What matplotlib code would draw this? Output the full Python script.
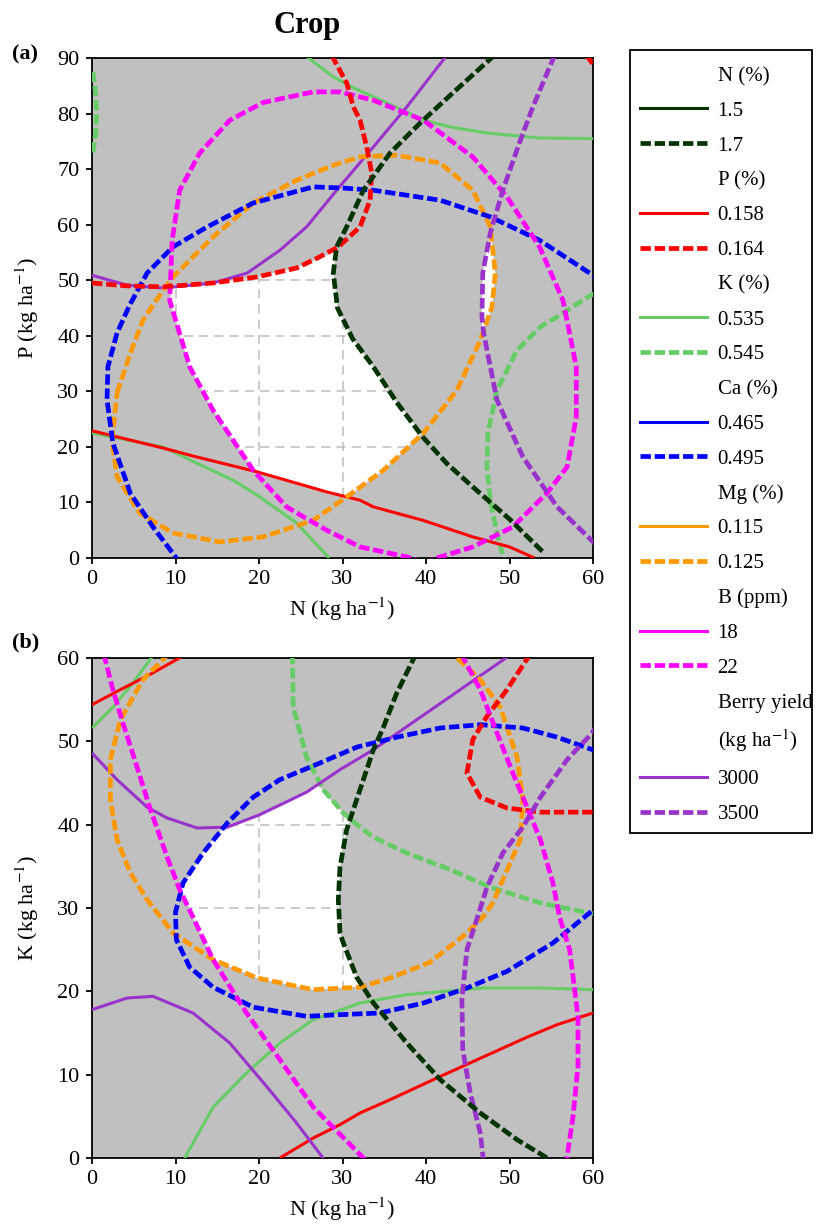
import matplotlib
matplotlib.use("Agg")
import matplotlib.pyplot as plt
from matplotlib.lines import Line2D
from matplotlib.patches import Rectangle

plt.rcParams['font.family'] = ['Liberation Serif', 'DejaVu Serif']
plt.rcParams['mathtext.fontset'] = 'stix'

# ---------------- panel (a): N vs P ----------------
a_n17_x = [48.2, 43.2, 39.3, 35.7, 32.5, 30.5, 29.3, 28.9, 29.4, 31.2, 33.7, 36.5, 39.6, 42.5, 45.6, 50.0, 54.2]
a_n17_y = [90.5, 83.7, 78.3, 72.9, 66.2, 59.6, 56.0, 51.3, 45.0, 39.5, 34.4, 28.0, 21.8, 17.0, 12.8, 7.0, 0.8]

a_p164_x = [28.7, 30.5, 31.3, 32.1, 32.9, 33.5, 33.3, 32.1, 29.5, 27.0, 24.5, 19.8, 14.5, 8.5, 4.0, 0.0]
a_p164_y = [90.5, 85.5, 81.2, 78.8, 74.0, 69.3, 64.4, 59.6, 56.0, 54.0, 52.2, 50.6, 49.5, 48.8, 49.0, 49.5]
a_p164b_x = [59.2, 60.2]
a_p164b_y = [90.5, 88.5]

a_p158_x = [0.0, 8.5, 12.5, 19.8, 28.1, 32.1, 33.7, 39.6, 45.6, 50.0, 53.0]
a_p158_y = [22.9, 19.8, 18.2, 15.5, 11.9, 10.4, 9.2, 6.8, 3.8, 2.0, 0.0]

a_k535_x = [0.0, 8.5, 12.5, 16.9, 19.8, 24.5, 28.4]
a_k535_y = [22.5, 20.0, 17.1, 14.0, 11.3, 6.3, 0.0]
a_k535b_x = [25.5, 28.9, 31.5, 34.5, 39.7, 42.9, 47.3, 53.6, 60.0]
a_k535b_y = [90.5, 86.6, 84.5, 82.5, 78.8, 77.6, 76.5, 75.6, 75.5]

a_k545_x = [0.1, 0.45, 0.55, 0.45, 0.1]
a_k545_y = [87.5, 83.5, 80.0, 76.5, 73.0]
a_k545b_x = [60.2, 59.4, 55.7, 53.7, 50.9, 48.5, 47.4, 47.3, 47.7, 48.5, 49.3]
a_k545b_y = [47.6, 47.0, 43.4, 41.6, 37.4, 30.2, 22.5, 16.4, 10.4, 4.5, 0.0]

a_ca495_x = [10.6, 7.3, 4.6, 2.5, 1.8, 1.9, 3.0, 4.5, 6.6, 9.7, 13.8, 19.3, 26.5, 30.0, 33.7, 41.7, 47.7, 53.6, 60.3]
a_ca495_y = [-1.0, 5.6, 11.6, 20.7, 28.4, 34.4, 40.5, 45.5, 51.3, 56.0, 59.6, 63.9, 66.8, 66.6, 66.2, 64.4, 61.4, 57.2, 50.6]

a_mg125_x = [3.0, 4.6, 6.1, 7.7, 9.7, 14.5, 19.3, 24.5, 28.9, 32.1, 36.5, 41.7, 45.6, 47.7, 48.3, 47.9, 46.5,
             43.7, 39.7, 34.9, 30.5, 26.5, 20.5, 15.3, 9.7, 5.7, 3.0, 2.4, 3.0]
a_mg125_y = [29.7, 36.9, 42.8, 46.4, 50.6, 57.8, 63.9, 68.0, 70.7, 72.2, 72.5, 71.1, 66.2, 59.6, 51.3, 45.2, 39.2,
             30.2, 22.5, 15.8, 11.0, 6.8, 3.8, 2.9, 4.5, 8.1, 14.6, 21.2, 29.7]

a_b22_x = [39.8, 37.7, 32.1, 28.1, 23.3, 19.3, 14.5, 11.7, 9.3, 9.6, 10.5, 12.9, 16.5, 20.5, 26.5, 29.7, 33.7,
           39.7, 45.6, 49.7, 53.6, 56.4, 56.8, 58.0, 58.0, 56.9, 54.5, 50.4, 45.6, 41.7, 39.8]
a_b22_y = [-0.8, 0.2, 2.0, 5.0, 9.2, 15.8, 26.6, 34.4, 46.4, 57.2, 66.2, 72.9, 78.8, 82.0, 83.9, 83.9, 82.4,
           78.8, 72.2, 65.0, 56.0, 46.4, 43.4, 34.4, 25.4, 16.4, 11.7, 5.6, 2.0, 0.2, -0.8]

a_y3000_x = [0.0, 4.2, 8.5, 14.5, 18.6, 22.5, 25.7, 29.3, 33.7, 37.7, 42.5]
a_y3000_y = [50.9, 49.1, 48.6, 49.5, 51.3, 55.4, 59.6, 66.2, 74.0, 81.2, 90.5]

a_y3500_x = [55.4, 52.8, 51.3, 49.2, 47.7, 46.8, 46.7, 46.9, 48.5, 51.6, 55.7, 60.5]
a_y3500_y = [90.5, 81.2, 75.2, 66.2, 58.5, 51.3, 43.4, 40.5, 28.4, 18.2, 9.2, 2.2]

a_white_x = [9.7, 14.5, 19.8, 24.5, 29.2, 28.9, 29.4, 31.2, 33.7, 36.5, 39.5, 34.9, 30.8, 28.1, 19.5, 17.0, 14.5, 11.7, 9.3]
a_white_y = [48.6, 49.5, 50.6, 52.2, 55.2, 51.3, 45.0, 39.5, 34.4, 28.0, 22.5, 15.8, 11.3, 11.9, 15.6, 21.0, 26.6, 34.4, 46.4]
a_lens_x = [47.8, 48.3, 47.9, 46.7, 46.7, 46.8, 47.5]
a_lens_y = [58.0, 51.3, 45.2, 40.0, 43.4, 51.3, 57.0]

# ---------------- panel (b): N vs K ----------------
b_n17_x = [38.8, 36.5, 34.9, 33.7, 32.1, 30.5, 29.7, 29.5, 29.7, 30.1, 31.7, 33.7, 37.7, 41.7, 46.5, 50.9, 55.0]
b_n17_y = [60.5, 55.8, 51.7, 49.0, 44.2, 39.4, 34.9, 31.0, 27.0, 25.8, 21.7, 18.6, 13.8, 9.4, 5.4, 2.2, -0.3]

b_p158_x = [0.0, 3.4, 6.9, 11.0]
b_p158_y = [54.4, 56.2, 58.0, 60.3]
b_p158b_x = [22.5, 26.5, 29.7, 32.1, 35.7, 41.3, 46.8, 52.1, 55.7, 60.0]
b_p158b_y = [0.0, 2.4, 4.0, 5.4, 7.0, 9.6, 12.1, 14.5, 16.0, 17.4]

b_p164_x = [52.5, 49.7, 47.3, 45.6, 44.9, 46.5, 49.7, 53.7, 60.0]
b_p164_y = [60.5, 56.2, 53.0, 50.2, 46.2, 43.3, 42.0, 41.5, 41.5]

b_k535_x = [0.0, 2.5, 4.9, 7.3]
b_k535_y = [51.6, 54.1, 57.0, 60.3]
b_k535b_x = [11.1, 14.5, 18.5, 22.5, 26.5, 32.1, 37.7, 46.8, 53.7, 60.0]
b_k535b_y = [0.0, 6.1, 10.2, 13.8, 16.6, 18.6, 19.6, 20.4, 20.4, 20.2]

b_k545_x = [24.0, 24.1, 25.7, 27.7, 30.1, 32.1, 33.7, 37.7, 42.9, 47.7, 53.7, 60.0]
b_k545_y = [60.5, 54.1, 48.1, 44.2, 41.4, 39.7, 38.5, 36.6, 34.6, 32.5, 30.6, 29.3]

b_ca495_x = [60.5, 55.7, 51.6, 46.5, 41.7, 36.5, 31.7, 27.3, 22.5, 19.3, 16.2, 13.3, 10.9, 10.0, 10.1, 11.7, 14.5,
             19.3, 25.7, 29.7, 34.5, 39.7, 44.9, 49.7, 55.2, 60.3]
b_ca495_y = [48.8, 50.5, 51.6, 52.0, 51.6, 50.5, 49.3, 47.4, 45.4, 43.3, 40.2, 36.6, 33.0, 29.5, 26.2, 22.9, 20.5,
             18.1, 17.0, 17.2, 17.4, 18.6, 20.4, 22.4, 25.8, 30.0]

b_mg125_x = [9.2, 6.1, 3.4, 2.2, 2.2, 3.0, 4.6, 6.6, 9.7, 14.5, 19.8, 26.5, 32.1, 35.7, 40.5, 44.9, 46.8, 48.0,
             49.2, 51.3, 51.6, 50.9, 48.9, 46.5, 43.2]
b_mg125_y = [60.5, 57.4, 52.6, 47.8, 43.0, 38.2, 34.2, 31.0, 27.0, 23.8, 21.6, 20.2, 20.5, 21.6, 23.5, 27.0, 28.9,
             30.6, 33.4, 38.2, 43.0, 48.1, 54.1, 57.4, 60.5]

b_b22_x = [1.4, 2.5, 3.7, 5.4, 6.9, 9.0, 10.5, 12.1, 14.5, 18.5, 22.5, 26.5, 32.8]
b_b22_y = [60.5, 56.2, 52.2, 46.9, 42.1, 36.1, 32.2, 28.9, 23.8, 17.4, 11.8, 6.1, -0.3]
b_b22b_x = [44.2, 46.5, 48.5, 50.4, 52.1, 53.7, 55.2, 56.0, 57.2, 58.2, 58.2, 57.6, 56.8]
b_b22b_y = [60.5, 56.2, 51.0, 46.2, 42.1, 38.2, 33.0, 28.9, 25.0, 17.0, 11.0, 4.9, -0.5]

b_y3000_x = [0.0, 3.0, 6.6, 9.0, 12.6, 16.2, 20.1, 25.7, 29.7, 33.7, 38.9, 44.1, 50.0]
b_y3000_y = [48.6, 45.4, 42.1, 40.8, 39.6, 39.7, 41.2, 43.9, 46.6, 49.0, 52.6, 56.2, 60.3]
b_y3000b_x = [0.0, 4.2, 7.3, 12.1, 16.5, 20.9, 24.5, 27.9]
b_y3000b_y = [17.8, 19.2, 19.4, 17.4, 13.8, 8.6, 4.2, -0.3]

b_y3500_x = [60.5, 59.9, 56.9, 53.7, 51.6, 49.2, 47.3, 46.2, 44.9, 44.3, 44.4, 45.3, 46.5, 46.9]
b_y3500_y = [52.0, 51.0, 47.8, 43.3, 39.7, 36.6, 32.5, 29.0, 25.0, 19.0, 13.0, 7.8, 3.0, -0.5]

b_white_x = [15.8, 20.1, 25.7, 27.1, 28.5, 30.1, 30.9, 30.5, 29.7, 29.5, 29.7, 30.1, 31.7, 32.3, 26.5, 19.8, 14.5,
             12.1, 10.7, 13.3]
b_white_y = [39.7, 41.2, 43.9, 44.8, 43.0, 41.4, 40.7, 39.4, 34.9, 31.0, 27.0, 25.8, 21.7, 20.6, 20.2, 21.6, 23.8,
             28.9, 32.3, 36.6]

# legend
nutrients = ['N (%)', 'P (%)', 'K (%)', 'Ca (%)', 'Mg (%)', 'B (ppm)', 'Berry yield']
low_levels = ['1.5', '0.158', '0.535', '0.465', '0.115', '18', '3000']
high_levels = ['1.7', '0.164', '0.545', '0.495', '0.125', '22', '3500']
colors = ['#003300', '#ff0000', '#66cc66', '#0000ff', '#ff9900', '#ff00ff', '#9933cc']

GRAY = '#c0c0c0'
DASH = (0, (2.2, 0.8))
FS = 16


def curve(ax, xs, ys, color, dashed):
    if dashed:
        ax.plot(xs, ys, color=color, lw=3.4, ls=DASH, dash_capstyle='butt', zorder=3)
    else:
        ax.plot(xs, ys, color=color, lw=2.2, solid_capstyle='butt', zorder=3)


def setup(ax, ymax, ylabel, white_x, white_y, extra_white=None):
    ax.set_facecolor(GRAY)
    ax.set_xlim(0, 60)
    ax.set_ylim(0, ymax)
    ax.set_xticks(range(0, 61, 10))
    ax.set_yticks(range(0, ymax + 1, 10))
    poly = ax.fill(white_x, white_y, color='white', lw=0, zorder=1)[0]
    if extra_white is not None:
        ax.fill(extra_white[0], extra_white[1], color='white', lw=0, zorder=1)
    for v in range(10, 60, 10):
        ln = ax.axvline(v, color='#bdbdbd', lw=1.1, ls=(0, (6, 4)), zorder=2)
        ln.set_clip_path(poly)
    for v in range(10, ymax, 10):
        ln = ax.axhline(v, color='#bdbdbd', lw=1.1, ls=(0, (6, 4)), zorder=2)
        ln.set_clip_path(poly)
    for s in ax.spines.values():
        s.set_linewidth(1.3)
    ax.tick_params(direction='out', length=4, width=1.3, labelsize=FS, pad=5)
    ax.set_xlabel('N (kg ha$^{-1}$)', fontsize=FS, labelpad=4)
    ax.set_ylabel(ylabel, fontsize=FS, labelpad=12)


fig = plt.figure(figsize=(8.25, 12.32), dpi=100)
axa = fig.add_axes([92 / 825, 1 - 558 / 1232, 501 / 825, 500 / 1232])
axb = fig.add_axes([92 / 825, 1 - 1158 / 1232, 501 / 825, 500 / 1232])

setup(axa, 90, 'P (kg ha$^{-1}$)', a_white_x, a_white_y, (a_lens_x, a_lens_y))
setup(axb, 60, 'K (kg ha$^{-1}$)', b_white_x, b_white_y)

# panel (a) curves
curve(axa, a_k535_x, a_k535_y, colors[2], False)
curve(axa, a_k535b_x, a_k535b_y, colors[2], False)
curve(axa, a_k545_x, a_k545_y, colors[2], True)
curve(axa, a_k545b_x, a_k545b_y, colors[2], True)
curve(axa, a_p158_x, a_p158_y, colors[1], False)
curve(axa, a_y3000_x, a_y3000_y, colors[6], False)
curve(axa, a_mg125_x, a_mg125_y, colors[4], True)
curve(axa, a_ca495_x, a_ca495_y, colors[3], True)
curve(axa, a_b22_x, a_b22_y, colors[5], True)
curve(axa, a_p164_x, a_p164_y, colors[1], True)
curve(axa, a_p164b_x, a_p164b_y, colors[1], True)
curve(axa, a_y3500_x, a_y3500_y, colors[6], True)
curve(axa, a_n17_x, a_n17_y, colors[0], True)

# panel (b) curves
curve(axb, b_k535_x, b_k535_y, colors[2], False)
curve(axb, b_k535b_x, b_k535b_y, colors[2], False)
curve(axb, b_k545_x, b_k545_y, colors[2], True)
curve(axb, b_p158_x, b_p158_y, colors[1], False)
curve(axb, b_p158b_x, b_p158b_y, colors[1], False)
curve(axb, b_y3000_x, b_y3000_y, colors[6], False)
curve(axb, b_y3000b_x, b_y3000b_y, colors[6], False)
curve(axb, b_mg125_x, b_mg125_y, colors[4], True)
curve(axb, b_ca495_x, b_ca495_y, colors[3], True)
curve(axb, b_p164_x, b_p164_y, colors[1], True)
curve(axb, b_b22_x, b_b22_y, colors[5], True)
curve(axb, b_b22b_x, b_b22b_y, colors[5], True)
curve(axb, b_y3500_x, b_y3500_y, colors[6], True)
curve(axb, b_n17_x, b_n17_y, colors[0], True)

# legend with header rows
handles, labels = [], []
blank = Line2D([], [], color='none')
for name, lo, hi, c in zip(nutrients, low_levels, high_levels, colors):
    handles.append(blank)
    labels.append(name)
    if name == 'Berry yield':
        handles.append(blank)
        labels.append('(kg ha$^{-1}$)')
    handles.append(Line2D([], [], color=c, lw=2.2))
    labels.append(lo)
    handles.append(Line2D([], [], color=c, lw=3.4, ls=DASH, dash_capstyle='butt'))
    labels.append(hi)

leg = fig.legend(handles, labels, loc='upper left', bbox_to_anchor=(630 / 825, 1 - 56 / 1232),
                 frameon=False, fontsize=15, handlelength=3.2, handletextpad=0.5,
                 labelspacing=0.73, borderpad=0.5, borderaxespad=0)
fig.patches.append(Rectangle((630 / 825, 1 - 833 / 1232), 182 / 825, 783 / 1232,
                             transform=fig.transFigure, fill=False, ec='black', lw=1.3))

fig.text(307 / 825, 1 - 25 / 1232, 'Crop', ha='center', va='center', fontsize=22, fontweight='bold')
fig.text(12 / 825, 1 - 54 / 1232, '(a)', ha='left', va='center', fontsize=FS, fontweight='bold')
fig.text(12 / 825, 1 - 642 / 1232, '(b)', ha='left', va='center', fontsize=FS, fontweight='bold')

fig.savefig('out.png', dpi=100)
